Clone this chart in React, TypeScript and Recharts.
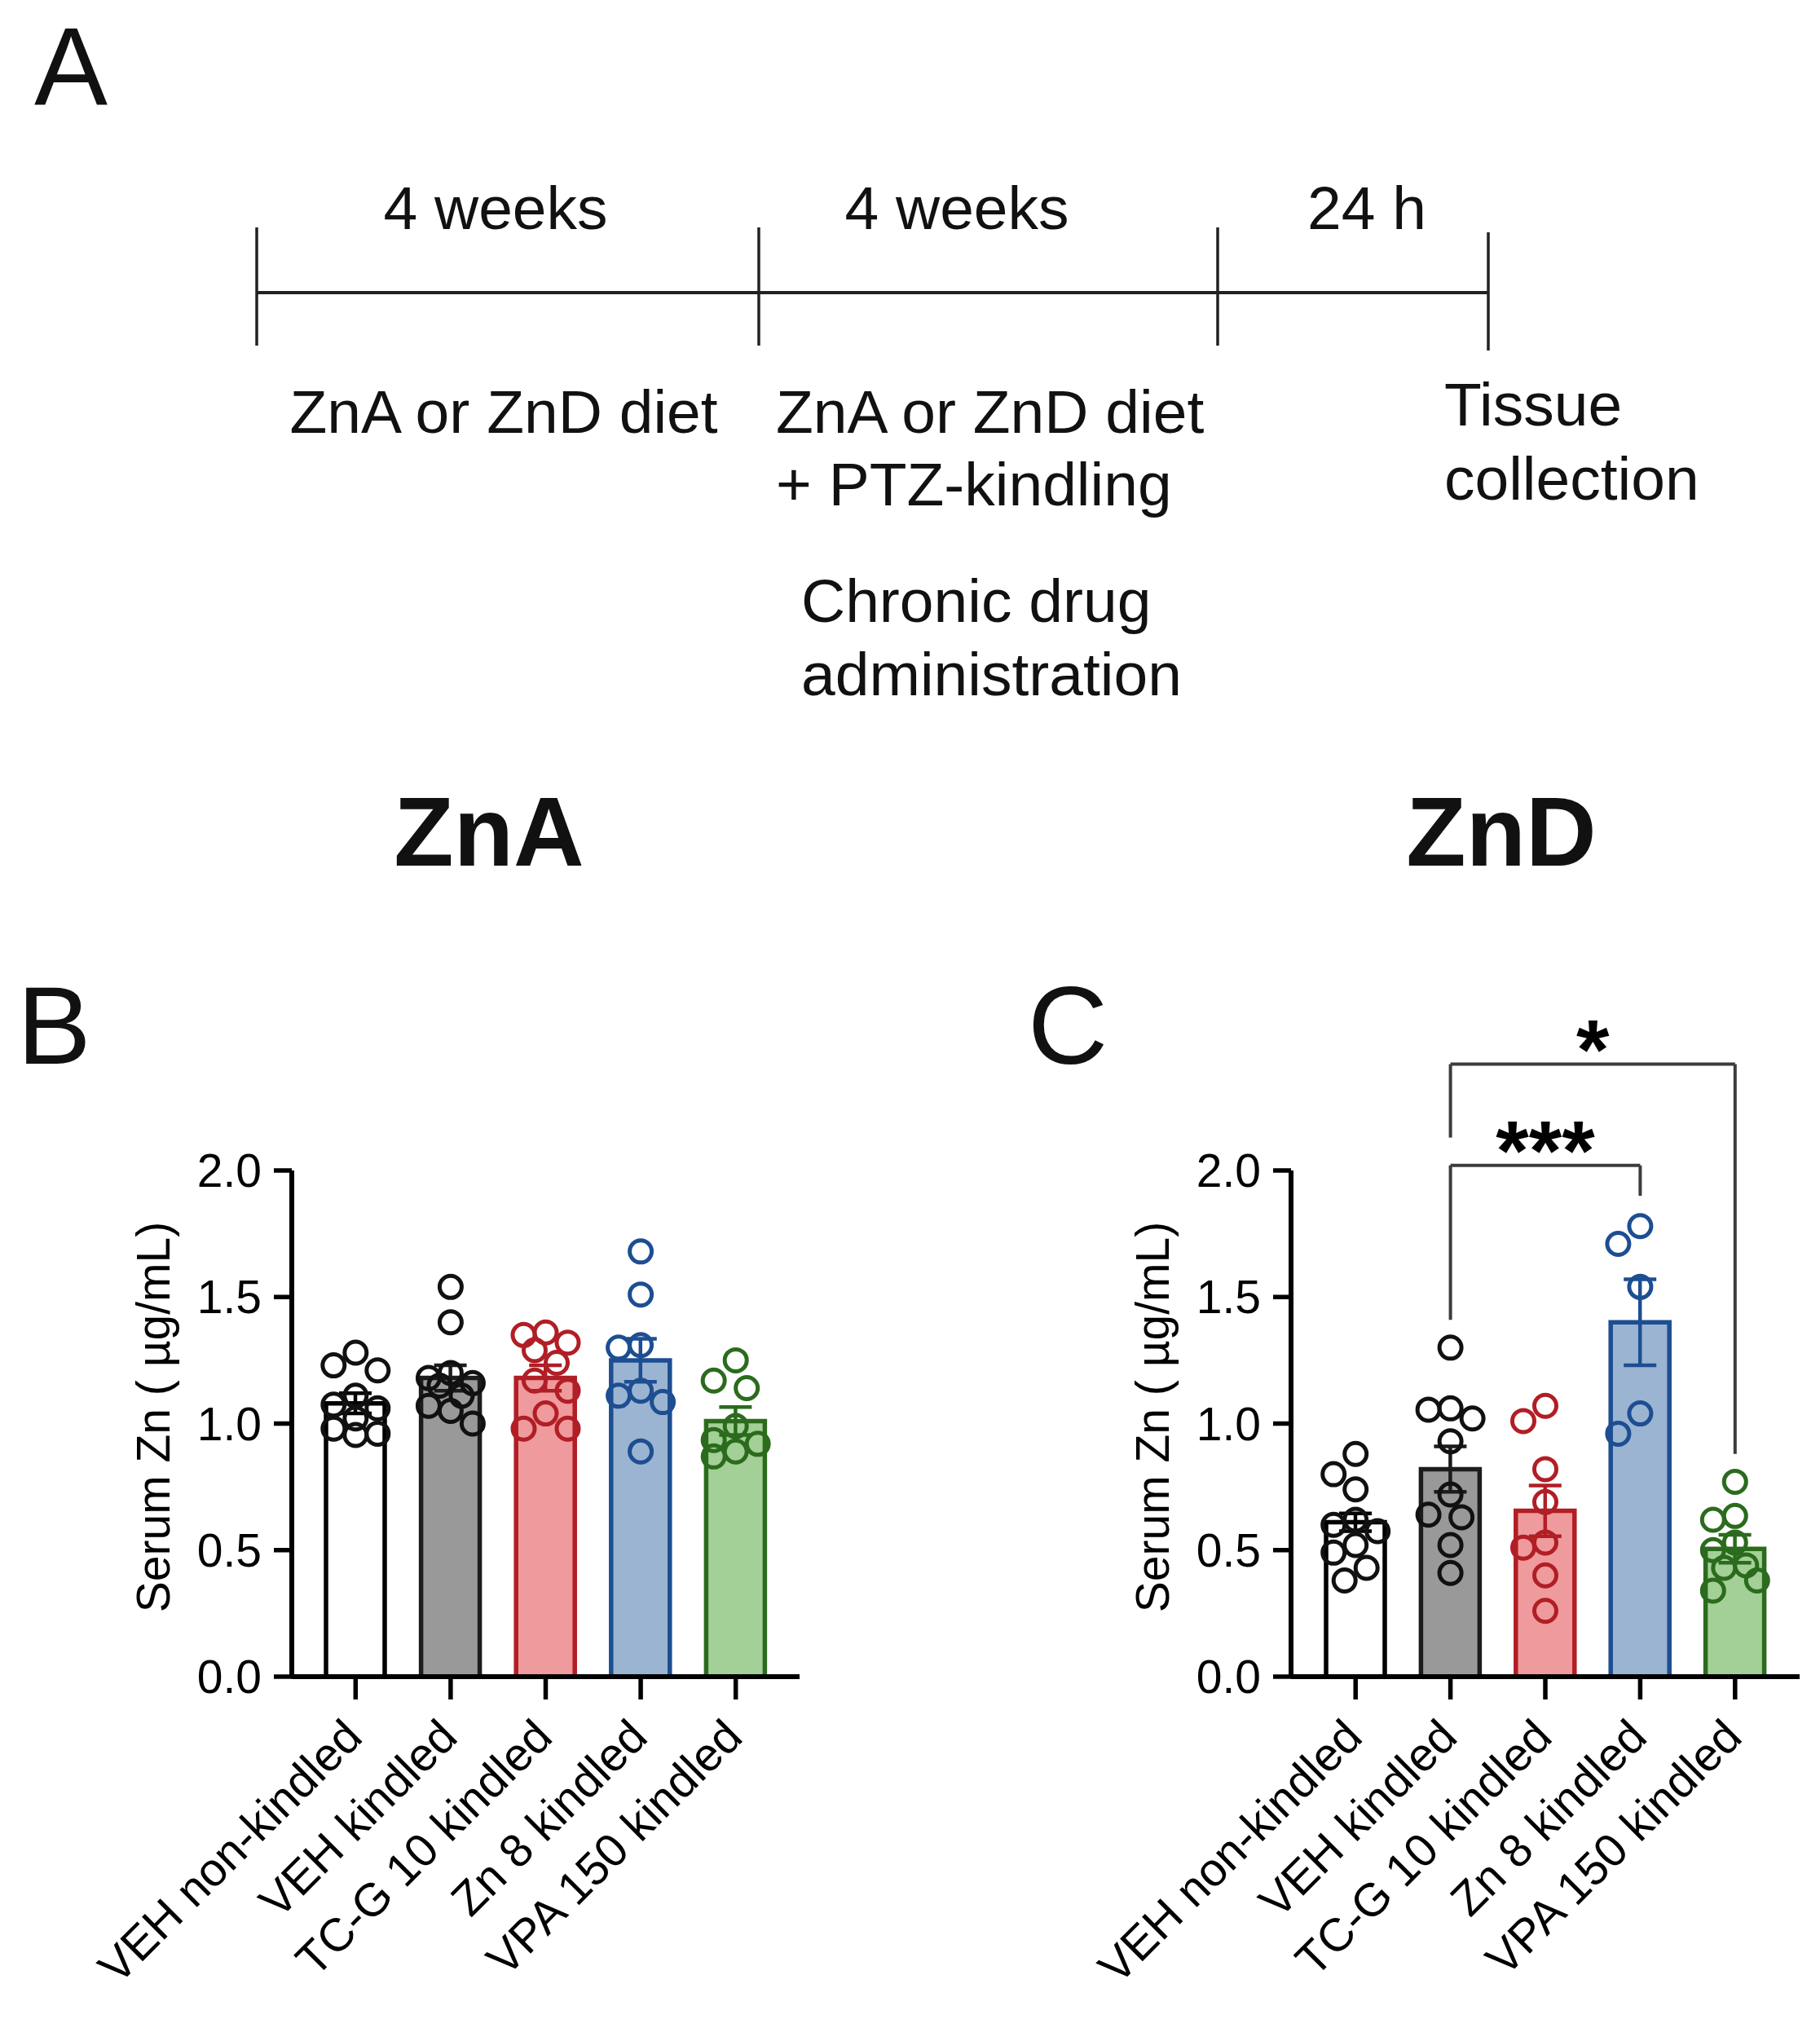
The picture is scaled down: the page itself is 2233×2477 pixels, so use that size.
import React from 'react';
import { ComposedChart, Bar, Cell, ErrorBar, Scatter, XAxis, YAxis, ReferenceLine } from 'recharts';

// ---------- data ----------
const categories = ['VEH non-kindled', 'VEH kindled', 'TC-G 10 kindled', 'Zn 8 kindled', 'VPA 150 kindled'];
const yTicks = [0, 0.5, 1.0, 1.5, 2.0];

// Panel B : ZnA diet
const znaMeans = [1.08, 1.18, 1.18, 1.25, 1.01];
const znaSem = [0.04, 0.05, 0.05, 0.085, 0.055];
const znaVehNonKindled = [1.28, 1.23, 1.21, 1.11, 1.075, 1.06, 1.02, 0.98, 0.96, 0.955];
const znaVehKindled = [1.54, 1.40, 1.20, 1.18, 1.16, 1.15, 1.11, 1.07, 1.05, 1.00];
const znaTcg10 = [1.36, 1.35, 1.32, 1.29, 1.24, 1.17, 1.13, 1.04, 0.98, 0.98];
const znaZn8 = [1.68, 1.51, 1.31, 1.30, 1.13, 1.11, 1.085, 0.89];
const znaVpa150 = [1.25, 1.17, 1.14, 0.99, 0.935, 0.92, 0.89, 0.87];

// Panel C : ZnD diet
const zndMeans = [0.61, 0.82, 0.655, 1.40, 0.505];
const zndSem = [0.035, 0.09, 0.10, 0.17, 0.055];
const zndVehNonKindled = [0.88, 0.80, 0.74, 0.62, 0.60, 0.575, 0.52, 0.49, 0.43, 0.38];
const zndVehKindled = [1.30, 1.06, 1.055, 1.02, 0.93, 0.72, 0.64, 0.63, 0.52, 0.41];
const zndTcg10 = [1.07, 1.01, 0.82, 0.69, 0.53, 0.51, 0.40, 0.26];
const zndZn8 = [1.78, 1.71, 1.54, 1.04, 0.96];
const zndVpa150 = [0.77, 0.635, 0.62, 0.53, 0.50, 0.44, 0.43, 0.38, 0.34];

// significance brackets (panel C)
const sigFrom = ['VEH kindled', 'VEH kindled'];
const sigTo = ['Zn 8 kindled', 'VPA 150 kindled'];
const sigTop = [2.02, 2.42];
const sigLeftEnd = [1.41, 2.13];
const sigRightEnd = [1.9, 0.88];
const sigLabel = ['***', '*'];

// ---------- styles ----------
const FONT = '"Liberation Sans", Arial, Helvetica, sans-serif';
const fillColors = ['#FFFFFF', '#999999', '#EF9A9C', '#9BB4D1', '#A3D096'];
const strokeColors = ['#000000', '#1C1C1C', '#B11E25', '#1D4E92', '#2B6B1D'];
const dotColors = ['#111111', '#111111', '#B11E25', '#1D4E92', '#2B6B1D'];

const CHART_W = 1000;
const CHART_H = 1277;
const CHART_TOP = 1200;
const PLOT_TOP = 236;
const PLOT_H = 621;
const XAXIS_H = CHART_H - PLOT_TOP - PLOT_H;
const PX_PER_UNIT = PLOT_H / 2;
const DOT_R = 13.5;

// beeswarm layout of points (pixel offsets, computed)
function swarm(values: number[]): number[] {
  const step = 13.5;
  const cands = [0, -step, step, -2 * step, 2 * step];
  const thr = 31;
  const order = values.map((v, i) => i).sort((a, b) => values[b] - values[a]);
  const placed: { x: number; y: number }[] = [];
  const out = new Array(values.length).fill(0);
  order.forEach((i) => {
    const y = values[i] * PX_PER_UNIT;
    let best = 0;
    let bestD = -1;
    let chosen: number | null = null;
    for (const c of cands) {
      let md = Infinity;
      for (const p of placed) {
        const d = Math.hypot(p.x - c, p.y - y);
        if (d < md) md = d;
      }
      if (md >= thr) {
        chosen = c;
        break;
      }
      if (md > bestD) {
        bestD = md;
        best = c;
      }
    }
    const x = chosen === null ? best : chosen;
    placed.push({ x, y });
    out[i] = x;
  });
  return out;
}

const XTick = (props: any) => {
  const { x, y, payload } = props;
  const ax = x + 11;
  const ay = y + 49;
  return (
    <text
      x={ax}
      y={ay}
      transform={`rotate(-45 ${ax} ${ay})`}
      textAnchor="end"
      fontSize={57}
      fill="#000"
      fontFamily={FONT}
    >
      {payload.value}
    </text>
  );
};

const YTitle = (props: any) => {
  const vb = props.viewBox || { x: 0, y: PLOT_TOP, width: 358, height: PLOT_H };
  const x = vb.x + vb.width - 150;
  const y = vb.y + vb.height / 2 - 8;
  return (
    <text
      x={x}
      y={y}
      transform={`rotate(-90 ${x} ${y})`}
      textAnchor="middle"
      fontSize={57}
      fill="#000"
      fontFamily={FONT}
    >
      Serum Zn ( µg/mL)
    </text>
  );
};

type PanelProps = {
  left: number;
  yAxisW: number;
  rightM: number;
  pad: number;
  means: number[];
  sems: number[];
  groups: number[][];
  withSig?: boolean;
};

function Panel({ left, yAxisW, rightM, pad, means, sems, groups, withSig }: PanelProps) {
  const barData = categories.map((name, i) => {
    const row: any = { name, mean: means[i] };
    row['e' + i] = sems[i];
    return row;
  });
  const pointSets = groups.map((vals, gi) => {
    const offs = swarm(vals);
    return vals.map((v, j) => ({ name: categories[gi], v, dx: offs[j] }));
  });

  return (
    <div style={{ position: 'absolute', left, top: CHART_TOP }}>
      <ComposedChart
        width={CHART_W}
        height={CHART_H}
        data={barData}
        margin={{ top: PLOT_TOP, right: rightM, bottom: 0, left: 0 }}
      >
        <XAxis
          dataKey="name"
          type="category"
          allowDuplicatedCategory={false}
          interval={0}
          padding={{ left: pad, right: pad }}
          height={XAXIS_H}
          tickSize={28}
          tickMargin={0}
          axisLine={{ stroke: '#000', strokeWidth: 6 }}
          tickLine={{ stroke: '#000', strokeWidth: 5.5 }}
          tick={<XTick />}
        />
        <YAxis
          type="number"
          domain={[0, 2]}
          ticks={yTicks}
          allowDataOverflow
          width={yAxisW}
          tickSize={22}
          tickMargin={15}
          tickFormatter={(v: number) => v.toFixed(1)}
          axisLine={{ stroke: '#000', strokeWidth: 6 }}
          tickLine={{ stroke: '#000', strokeWidth: 5.5 }}
          tick={{ fontSize: 57, fill: '#000', fontFamily: FONT }}
          label={<YTitle />}
        />
        <Bar dataKey="mean" barSize={72} strokeWidth={5.5} isAnimationActive={false}>
          {categories.map((c, i) => (
            <Cell key={c} fill={fillColors[i]} stroke={strokeColors[i]} />
          ))}
          {categories.map((c, i) => (
            <ErrorBar
              key={'eb' + i}
              dataKey={'e' + i}
              direction="y"
              width={20}
              strokeWidth={4.5}
              stroke={strokeColors[i]}
              isAnimationActive={false}
            />
          ))}
        </Bar>
        {pointSets.map((pts, gi) => (
          <Scatter
            key={'sc' + gi}
            data={pts}
            dataKey="v"
            isAnimationActive={false}
            shape={(p: any) => (
              <circle
                cx={p.cx + (p.payload ? p.payload.dx : 0)}
                cy={p.cy}
                r={DOT_R}
                fill="none"
                stroke={dotColors[gi]}
                strokeWidth={5}
              />
            )}
          />
        ))}
        {withSig &&
          sigLabel.map((lab, k) => (
            <ReferenceLine
              key={'sh' + k}
              ifOverflow="visible"
              stroke="#3C3C3C"
              strokeWidth={4}
              segment={[
                { x: sigFrom[k], y: sigTop[k] },
                { x: sigTo[k], y: sigTop[k] },
              ]}
              label={{
                value: lab,
                position: 'top',
                offset: -18,
                fill: '#000',
                fontSize: 104,
                fontWeight: 'bold',
                fontFamily: FONT,
              }}
            />
          ))}
        {withSig &&
          sigLabel.map((lab, k) => (
            <ReferenceLine
              key={'sl' + k}
              ifOverflow="visible"
              stroke="#3C3C3C"
              strokeWidth={4}
              segment={[
                { x: sigFrom[k], y: sigTop[k] },
                { x: sigFrom[k], y: sigLeftEnd[k] },
              ]}
            />
          ))}
        {withSig &&
          sigLabel.map((lab, k) => (
            <ReferenceLine
              key={'sr' + k}
              ifOverflow="visible"
              stroke="#3C3C3C"
              strokeWidth={4}
              segment={[
                { x: sigTo[k], y: sigTop[k] },
                { x: sigTo[k], y: sigRightEnd[k] },
              ]}
            />
          ))}
      </ComposedChart>
    </div>
  );
}

function Schematic() {
  const txt = { fontFamily: FONT, fill: '#111' } as const;
  return (
    <svg width={2233} height={2477} style={{ position: 'absolute', left: 0, top: 0 }}>
      <text x={42} y={128} fontSize={135} {...txt}>A</text>
      <text x={21} y={1305} fontSize={136} {...txt}>B</text>
      <text x={1261} y={1305} fontSize={136} {...txt}>C</text>

      <line x1={315} y1={359} x2={1826} y2={359} stroke="#222" strokeWidth={4} />
      <line x1={315} y1={279} x2={315} y2={424} stroke="#222" strokeWidth={3.5} />
      <line x1={931} y1={279} x2={931} y2={424} stroke="#222" strokeWidth={3.5} />
      <line x1={1494} y1={279} x2={1494} y2={424} stroke="#222" strokeWidth={3.5} />
      <line x1={1826} y1={285} x2={1826} y2={430} stroke="#222" strokeWidth={3.5} />

      <text x={608} y={281} fontSize={75} textAnchor="middle" {...txt}>4 weeks</text>
      <text x={1174} y={281} fontSize={75} textAnchor="middle" {...txt}>4 weeks</text>
      <text x={1677} y={281} fontSize={75} textAnchor="middle" {...txt}>24 h</text>

      <text x={618} y={531} fontSize={75} textAnchor="middle" {...txt}>ZnA or ZnD diet</text>
      <text x={952} y={531} fontSize={75} {...txt}>ZnA or ZnD diet</text>
      <text x={952} y={620} fontSize={75} {...txt}>+ PTZ-kindling</text>
      <text x={983} y={763} fontSize={75} {...txt}>Chronic drug</text>
      <text x={983} y={853} fontSize={75} {...txt}>administration</text>
      <text x={1772} y={522} fontSize={75} {...txt}>Tissue</text>
      <text x={1772} y={613} fontSize={75} {...txt}>collection</text>

      <text x={600} y={1062} fontSize={120} fontWeight="bold" textAnchor="middle" {...txt}>ZnA</text>
      <text x={1842} y={1062} fontSize={120} fontWeight="bold" textAnchor="middle" {...txt}>ZnD</text>
    </svg>
  );
}

export default function App() {
  return (
    <div
      style={{
        position: 'absolute',
        left: 0,
        top: 0,
        width: 2233,
        height: 2477,
        background: '#fff',
        fontFamily: FONT,
        overflow: 'hidden',
      }}
    >
      <Schematic />
      <Panel
        left={0}
        yAxisW={358}
        rightM={19}
        pad={20}
        means={znaMeans}
        sems={znaSem}
        groups={[znaVehNonKindled, znaVehKindled, znaTcg10, znaZn8, znaVpa150]}
      />
      <Panel
        left={1230}
        yAxisW={354}
        rightM={22}
        pad={21}
        means={zndMeans}
        sems={zndSem}
        groups={[zndVehNonKindled, zndVehKindled, zndTcg10, zndZn8, zndVpa150]}
        withSig
      />
    </div>
  );
}
